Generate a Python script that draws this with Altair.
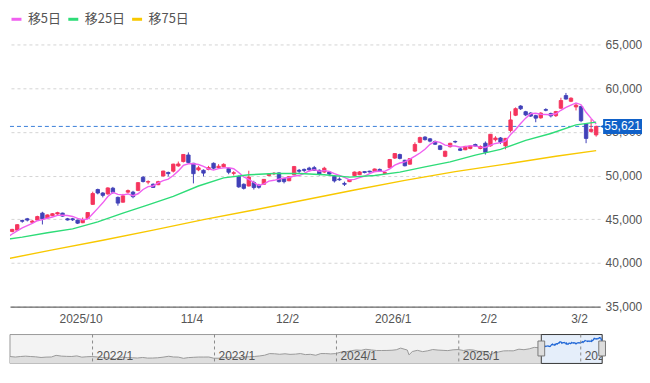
import altair as alt
import pandas as pd

# ---------------- data ----------------
dates = [
    "2025-09-08", "2025-09-09", "2025-09-10", "2025-09-11", "2025-09-12", "2025-09-16", "2025-09-17",
    "2025-09-18", "2025-09-19", "2025-09-22", "2025-09-24", "2025-09-25", "2025-09-26", "2025-09-29",
    "2025-09-30",
    "2025-10-01", "2025-10-02", "2025-10-03", "2025-10-06", "2025-10-07", "2025-10-08", "2025-10-09",
    "2025-10-10", "2025-10-14", "2025-10-15", "2025-10-16", "2025-10-17", "2025-10-20", "2025-10-21",
    "2025-10-22", "2025-10-23", "2025-10-24", "2025-10-27", "2025-10-28", "2025-10-29", "2025-10-30",
    "2025-10-31",
    "2025-11-04", "2025-11-05", "2025-11-06", "2025-11-07", "2025-11-10", "2025-11-11", "2025-11-12",
    "2025-11-13", "2025-11-14", "2025-11-17", "2025-11-18", "2025-11-19", "2025-11-20", "2025-11-21",
    "2025-11-25", "2025-11-26", "2025-11-27", "2025-11-28",
    "2025-12-01", "2025-12-02", "2025-12-03", "2025-12-04", "2025-12-05", "2025-12-08", "2025-12-09",
    "2025-12-10", "2025-12-11", "2025-12-12", "2025-12-15", "2025-12-16", "2025-12-17", "2025-12-18",
    "2025-12-19", "2025-12-22", "2025-12-23", "2025-12-24", "2025-12-25", "2025-12-26", "2025-12-29",
    "2025-12-30",
    "2026-01-05", "2026-01-06", "2026-01-07", "2026-01-08", "2026-01-09", "2026-01-13", "2026-01-14",
    "2026-01-15", "2026-01-16", "2026-01-19", "2026-01-20", "2026-01-21", "2026-01-22", "2026-01-23",
    "2026-01-26", "2026-01-27", "2026-01-28", "2026-01-29", "2026-01-30",
    "2026-02-02", "2026-02-03", "2026-02-04", "2026-02-05", "2026-02-06", "2026-02-09", "2026-02-10",
    "2026-02-12", "2026-02-13", "2026-02-16", "2026-02-17", "2026-02-18", "2026-02-19", "2026-02-20",
    "2026-02-24", "2026-02-25", "2026-02-26", "2026-02-27",
    "2026-03-02", "2026-03-03", "2026-03-04", "2026-03-05", "2026-03-06",
]

opens = [
    43400, 44050, 43600, 43750, 44850, 45050, 44650, 44900, 45700, 45150,
    45400, 45600, 45700, 45050, 45050, 44900, 44600, 45100, 46700, 48400,
    48000, 47900, 48550, 47500, 46950, 48100, 48100, 48300, 49800, 49250,
    49000, 48950, 49950, 50350, 50500, 51100, 51600, 52350, 51400, 50650,
    50600, 50700, 51400, 50900, 51000, 50800, 50250, 49900, 49000, 48800,
    49200, 48900, 49000, 50000, 50200, 50300, 49650, 49400, 50100, 50600,
    50700, 50850, 50900, 50600, 50400, 50400, 49900, 49600, 49100, 49300,
    50000, 50100, 50450, 50500, 50450, 50700, 50250, 50900, 52000, 52400,
    51750, 51300, 52800, 53800, 54400, 54200, 53900, 53400, 52200, 53300,
    53900, 53050, 52950, 53100, 53550, 53100, 53700, 53400, 54100, 54300,
    53400, 55150, 56900, 57950, 57300, 57150, 56850, 56600, 57550, 57100,
    56850, 57700, 59150, 58500, 57850, 57900, 55900, 55050, 54650,
]
highs = [
    43800, 44200, 43900, 44450, 44950, 45150, 44900, 45400, 45850, 45550,
    45700, 45850, 45750, 45150, 45150, 44950, 45200, 45800, 48150, 48500,
    48100, 48650, 48700, 47600, 47900, 48400, 48250, 49250, 49950, 49450,
    49100, 49400, 50550, 50450, 51350, 51600, 52450, 52650, 51450, 51100,
    50700, 51100, 51500, 51300, 51400, 50900, 50500, 50000, 49100, 50550,
    49400, 49050, 49600, 50250, 50400, 50350, 49700, 49900, 51100, 50750,
    50800, 51000, 51100, 50700, 51000, 50500, 50000, 49800, 49300, 49600,
    50450, 50500, 50500, 50550, 50800, 50800, 50450, 51900, 52550, 52500,
    51800, 52000, 53800, 54450, 54500, 54300, 54000, 53500, 52850, 53750,
    54000, 53150, 53400, 53450, 53650, 53450, 53900, 54750, 54500, 54400,
    54300, 57350, 57800, 58050, 57400, 57250, 56950, 57250, 57700, 57200,
    57400, 58900, 59450, 58950, 58300, 58000, 56000, 56450, 55700,
]
lows = [
    43300, 43400, 43500, 43700, 44600, 44750, 44550, 44800, 44400, 45100,
    45350, 45500, 45300, 44850, 44800, 44450, 44550, 45050, 46650, 47850,
    47500, 47800, 47900, 46550, 46900, 47950, 47400, 48200, 49200, 49000,
    48600, 48900, 49900, 49900, 50350, 51000, 51500, 51350, 49100, 50500,
    49900, 50600, 50700, 50800, 50950, 50150, 50000, 48600, 48400, 48750,
    48400, 48500, 48950, 49900, 50050, 49200, 49100, 49350, 50000, 50300,
    50400, 50500, 50550, 50000, 50300, 50050, 49200, 49400, 48800, 49250,
    49950, 50050, 50250, 50350, 50400, 50450, 50200, 50850, 51900, 51850,
    51050, 51250, 52700, 53700, 54000, 53800, 53500, 52900, 52100, 53200,
    53700, 52800, 52900, 53000, 53300, 53000, 52400, 53300, 53900, 53600,
    53000, 54950, 56800, 57500, 56800, 56700, 56100, 56500, 57350, 56650,
    56700, 57650, 58700, 58400, 57450, 56100, 53700, 54900, 54450,
]
closes = [
    43643, 43459, 43837, 44372, 44768, 44902, 44790, 45303, 45045, 45493,
    45630, 45754, 45354, 44913, 44932, 44550, 44936, 45769, 47944, 48000,
    47734, 48580, 48088, 46847, 47672, 48277, 47582, 49185, 49316, 49307,
    48641, 49299, 50512, 50219, 51307, 51325, 52411, 51497, 50212, 50883,
    50276, 50912, 50842, 51063, 51281, 50376, 50323, 48702, 48537, 49823,
    48625, 48659, 49559, 50167, 50253, 49303, 49303, 49864, 51028, 50491,
    50581, 50655, 50602, 50148, 50837, 50168, 49383, 49512, 49001, 49507,
    50402, 50412, 50345, 50407, 50750, 50526, 50339, 51832, 52518, 51961,
    51117, 51939, 53549, 54341, 54110, 53936, 53583, 52991, 52774, 53688,
    53846, 52885, 53333, 53358, 53375, 53322, 52655, 54720, 54293, 53818,
    54253, 56363, 57650, 57639, 56941, 56806, 56566, 57143, 57467, 56825,
    57321, 58583, 58753, 58850, 58057, 56279, 54245, 55278, 55621,
]

# moving averages
ma5 = [
    42700, 42928, 43308, 43666, 44016, 44268, 44534, 44827, 44962, 45107,
    45252, 45445, 45455, 45429, 45317, 45101, 44937, 45020, 45626, 46240,
    46877, 47605, 48069, 47850, 47784, 47893, 47693, 47913, 48406, 48733,
    48806, 49150, 49415, 49596, 49996, 50532, 51155, 51352, 51350, 51266,
    51056, 50756, 50625, 50795, 50875, 50895, 50777, 50349, 49844, 49552,
    49202, 48869, 49041, 49367, 49453, 49588, 49717, 49778, 49950, 49998,
    50253, 50524, 50671, 50495, 50565, 50482, 50228, 50010, 49780, 49514,
    49561, 49767, 49933, 50215, 50463, 50488, 50473, 50771, 51193, 51435,
    51553, 51873, 52217, 52581, 53011, 53575, 53904, 53792, 53479, 53394,
    53376, 53237, 53305, 53422, 53359, 53255, 53209, 53486, 53673, 53762,
    53948, 54689, 55275, 55945, 56569, 57080, 57120, 57019, 56985, 56961,
    57064, 57468, 57790, 58066, 58313, 58104, 57237, 56542, 55896,
]
ma25_days = [0, 4, 9, 14, 19, 24, 29, 34, 39, 44, 49, 54, 59, 64, 69, 74, 79, 84, 89, 94, 99, 104, 109, 114, 118]
ma25_vals = [42630, 42950, 43450, 43900, 44700, 45693, 46636, 47614, 48804, 49731, 50084, 50228, 50229,
             50088, 49816, 49998, 50395, 50998, 51564, 52333, 52992, 54019, 54809, 55793, 56113]
ma75_days = [0, 10, 20, 30, 40, 50, 60, 70, 80, 90, 100, 110, 118]
ma75_vals = [40350, 41500, 42600, 43750, 44950, 46050, 47200, 48350, 49450, 50450, 51300, 52200, 52850]

series_names = ["移5日", "移25日", "移75日"]
series_colors = ["#f060f0", "#2edc78", "#f8c800"]

tick_days = [15, 37, 56, 77, 96, 114]
tick_labels = ["2025/10", "11/4", "12/2", "2026/1", "2/2", "3/2"]
y_ticks = [35000, 40000, 45000, 50000, 55000, 60000, 65000]
last_price = 55621

# long-range series for the navigator (approximate levels)
nav_dates = [
    "2021-04-29", "2021-05-15", "2021-05-31", "2021-06-15", "2021-06-30", "2021-07-15", "2021-07-31",
    "2021-08-15", "2021-08-31", "2021-09-14", "2021-09-30", "2021-10-15", "2021-10-31", "2021-11-15",
    "2021-11-30", "2021-12-15", "2021-12-30", "2022-01-15", "2022-01-31", "2022-02-15", "2022-03-08",
    "2022-03-31", "2022-04-15", "2022-04-30", "2022-05-15", "2022-05-31", "2022-06-15", "2022-06-30",
    "2022-07-15", "2022-07-31", "2022-08-17", "2022-08-31", "2022-09-15", "2022-09-30", "2022-10-15",
    "2022-10-31", "2022-11-15", "2022-11-30", "2022-12-15", "2022-12-30", "2023-01-15", "2023-01-31",
    "2023-02-15", "2023-02-28", "2023-03-15", "2023-03-31", "2023-04-15", "2023-04-30", "2023-05-15",
    "2023-05-31", "2023-06-15", "2023-06-30", "2023-07-15", "2023-07-31", "2023-08-15", "2023-08-31",
    "2023-09-15", "2023-09-30", "2023-10-15", "2023-10-31", "2023-11-15", "2023-11-30", "2023-12-15",
    "2023-12-29", "2024-01-15", "2024-01-31", "2024-02-15", "2024-02-29", "2024-03-15", "2024-03-29",
    "2024-04-15", "2024-04-30", "2024-05-15", "2024-05-31", "2024-06-15", "2024-06-28", "2024-07-11",
    "2024-07-31", "2024-08-05", "2024-08-15", "2024-08-30", "2024-09-15", "2024-09-30", "2024-10-15",
    "2024-10-31", "2024-11-15", "2024-11-29", "2024-12-15", "2024-12-30", "2025-01-15", "2025-01-31",
    "2025-02-14", "2025-02-28", "2025-03-14", "2025-03-31", "2025-04-07", "2025-04-15", "2025-04-30",
    "2025-05-15", "2025-05-30", "2025-06-13", "2025-06-30", "2025-07-15", "2025-07-31", "2025-08-15",
    "2025-08-29", "2025-09-05",
]
nav_vals = [
    28800, 28000, 28860, 29400, 28790, 28300, 27280, 27900, 28090, 30670, 29450, 29070, 28890, 29800,
    27820, 28460, 28790, 28120, 27000, 26860, 24790, 27820, 27090, 26850, 26430, 27280, 26330, 26390,
    26790, 27800, 29220, 28090, 27880, 25940, 27090, 27590, 27990, 27970, 28050, 26090, 26120, 27330,
    27500, 27450, 27230, 28040, 28490, 28860, 29630, 30890, 33480, 33190, 32390, 33170, 32240, 32620,
    33530, 31860, 32320, 30860, 33520, 33490, 32970, 33460, 35900, 36290, 38160, 39170, 38710, 40370,
    39230, 38410, 38390, 38490, 38810, 39580, 42220, 39100, 31460, 36730, 38650, 36580, 37920, 39910,
    39080, 38640, 38210, 39470, 39890, 38440, 39570, 39150, 37160, 37050, 35620, 31140, 34270, 36050,
    37760, 37970, 37830, 40490, 39680, 41070, 43380, 42720, 43020,
]
nav_year_dates = ["2022-01-01", "2023-01-01", "2024-01-01", "2025-01-01", "2026-01-01"]
nav_year_labels = ["2022/1", "2023/1", "2024/1", "2025/1", "2026/1"]
nav_window = ["2025-09-05", "2026-03-06"]

# ---------------- styling ----------------
RED = "#f5345d"
BLUE = "#4141b8"
NUM_FONT = "Liberation Sans"
CJK_FONT = "Noto Sans CJK JP"
W, H = 592, 263
NAV_W, NAV_H = 594, 29
HALF_BODY = 0.34  # half candle width, in trading days

# ---------------- tables ----------------
idx = list(range(len(dates)))
cdf = pd.DataFrame({"day": idx, "date": dates, "open": opens, "high": highs,
                    "low": lows, "close": closes})
cvis = cdf[cdf["day"] >= 2]

ma_rows = []
for d, v in zip(idx, ma5):
    ma_rows.append({"day": d, "series": series_names[0], "value": v})
for d, v in zip(ma25_days, ma25_vals):
    ma_rows.append({"day": d, "series": series_names[1], "value": v})
for d, v in zip(ma75_days, ma75_vals):
    ma_rows.append({"day": d, "series": series_names[2], "value": v})
ma_df = pd.DataFrame(ma_rows)

price_df = pd.DataFrame({"price": [last_price], "label": [f"{last_price:,}"]})

label_expr = "''"
for d, lab in reversed(list(zip(tick_days, tick_labels))):
    label_expr = f"datum.value == {d} ? '{lab}' : ({label_expr})"

xscale = alt.Scale(domain=[1.564, 118.79], nice=False, zero=False, padding=0)
yscale = alt.Scale(domain=[35000, 65000], nice=False, zero=False, padding=0)
x_axis = alt.Axis(values=tick_days, labelExpr=label_expr, title=None, grid=False, ticks=False,
                  domain=True, domainColor="#444", domainWidth=1, labelPadding=7,
                  labelFontSize=12, labelColor="#555", labelFont=NUM_FONT, labelOffset=3,
                  labelFlush=False, labelOverlap=False, zindex=1)
y_axis = alt.Axis(orient="right", values=y_ticks, format=",.0f", title=None, grid=True,
                  gridDash=[3, 3], gridColor="#d4d4d4", ticks=False, domain=False,
                  labelPadding=5, labelFontSize=12, labelColor="#555", labelFont=NUM_FONT)

X = alt.X("day:Q", scale=xscale, axis=x_axis)


def Y(field):
    return alt.Y(field, scale=yscale, axis=y_axis)


up = "datum.close >= datum.open"
down = "datum.close < datum.open"

price_rule = alt.Chart(price_df).mark_rule(color="#3b7fd9", strokeDash=[4, 3], strokeWidth=1).encode(
    y=Y("price:Q"))

candle_base = alt.Chart(cvis).transform_calculate(
    x0=f"datum.day - {HALF_BODY}", x1=f"datum.day + {HALF_BODY}")

wick_up = candle_base.transform_filter(up).mark_rule(color=RED, strokeWidth=1).encode(
    x=X, y=Y("low:Q"), y2="high:Q")
wick_dn = candle_base.transform_filter(down).mark_rule(color=BLUE, strokeWidth=1).encode(
    x=X, y=Y("low:Q"), y2="high:Q")
body_up = candle_base.transform_filter(up).mark_rect(
    fill=RED, stroke=RED, strokeWidth=0.9).encode(
    x=alt.X("x0:Q", scale=xscale, axis=x_axis), x2="x1:Q", y=Y("open:Q"), y2="close:Q")
body_dn = candle_base.transform_filter(down).mark_rect(
    fill=BLUE, stroke=BLUE, strokeWidth=0.9).encode(
    x=alt.X("x0:Q", scale=xscale, axis=x_axis), x2="x1:Q", y=Y("open:Q"), y2="close:Q")

ma_lines = alt.Chart(ma_df).mark_line(strokeWidth=1.4, clip=True).encode(
    x=X, y=Y("value:Q"),
    color=alt.Color("series:N", sort=series_names,
                    scale=alt.Scale(domain=series_names, range=series_colors),
                    legend=alt.Legend(orient="none", legendX=0, legendY=-32, direction="horizontal",
                                      title=None, symbolType="stroke", symbolStrokeWidth=3,
                                      symbolSize=100, labelFontSize=13, labelColor="#555",
                                      labelFont=CJK_FONT, columnPadding=0, labelOffset=5,
                                      padding=0)),
    order=alt.Order("day:Q"))

price_box = alt.Chart(price_df).transform_calculate(
    top="datum.price + 860", bot="datum.price - 860").mark_rect(fill="#1061c8").encode(
    x=alt.value(595), x2=alt.value(634), y=Y("top:Q"), y2="bot:Q")
price_tip = alt.Chart(price_df).mark_point(
    shape="M1,-1L-1,0L1,1Z", filled=True, fill="#1061c8", opacity=1, size=64, strokeWidth=0).encode(
    x=alt.value(596), y=Y("price:Q"))
price_text = alt.Chart(price_df).mark_text(
    color="white", fontSize=12, font=NUM_FONT, align="center", baseline="middle").encode(
    x=alt.value(614.5), y=Y("price:Q"), text="label:N")

main = alt.layer(price_rule, wick_up, wick_dn, body_up, body_dn, ma_lines,
                 price_box, price_tip, price_text).properties(width=W, height=H)

# ---------------- navigator ----------------
nav_df = pd.DataFrame({"date": nav_dates, "value": nav_vals})
sel_df = pd.DataFrame({"start": [nav_window[0]], "end": [nav_window[1]]})
year_df = pd.DataFrame({"date": nav_year_dates, "label": nav_year_labels})
handle_df = pd.DataFrame({"date": nav_window})
one = pd.DataFrame({"k": [0]})

nxs = alt.Scale(domain=[alt.DateTime(year=2021, month=4, date=29),
                        alt.DateTime(year=2026, month=3, date=6)], padding=0)
nys = alt.Scale(domain=[17800, 63800], nice=False, zero=False, padding=0)

nav_bg = alt.Chart(one).mark_rect(fill="#f3f3f3", stroke="#9a9a9a", strokeWidth=1).encode(
    x=alt.value(0), x2=alt.value(NAV_W), y=alt.value(0), y2=alt.value(NAV_H))
nav_area = alt.Chart(nav_df).mark_area(color="#dedede", clip=True).encode(
    x=alt.X("date:T", scale=nxs, axis=None), y=alt.Y("value:Q", scale=nys, axis=None),
    y2=alt.value(NAV_H))
nav_line = alt.Chart(nav_df).mark_line(color="#9a9a9a", strokeWidth=1).encode(
    x=alt.X("date:T", scale=nxs, axis=None), y=alt.Y("value:Q", scale=nys, axis=None))
nav_sel = alt.Chart(sel_df).mark_rect(fill="#e5eefa", stroke="#3a3a3a", strokeWidth=1).encode(
    x=alt.X("start:T", scale=nxs, axis=None), x2="end:T", y=alt.value(0), y2=alt.value(NAV_H))
nav_blue = alt.Chart(cdf).mark_line(color="#1f66d6", strokeWidth=1.2).encode(
    x=alt.X("date:T", scale=nxs, axis=None), y=alt.Y("close:Q", scale=nys, axis=None))
nav_rules = alt.Chart(year_df).mark_rule(color="#8a8a8a", strokeDash=[3, 3], strokeWidth=1).encode(
    x=alt.X("date:T", scale=nxs, axis=None), y=alt.value(0), y2=alt.value(NAV_H))
nav_text = alt.Chart(year_df).mark_text(align="left", baseline="middle", dx=4, fontSize=12,
                                        color="#555", font=NUM_FONT, clip=True).encode(
    x=alt.X("date:T", scale=nxs, axis=None), y=alt.value(22), text="label:N")
nav_handles = alt.Chart(handle_df).mark_point(
    shape="M-0.45,-1H0.45V1H-0.45Z", filled=True, fill="#dddddd", stroke="#7a7a7a",
    strokeWidth=1, size=225, opacity=1).encode(
    x=alt.X("date:T", scale=nxs, axis=None), y=alt.value(14))

nav = alt.layer(nav_bg, nav_area, nav_line, nav_sel, nav_blue, nav_rules, nav_text,
                nav_handles).properties(width=NAV_W, height=NAV_H)

chart = alt.vconcat(main, nav, spacing=9).resolve_scale(color="independent").resolve_legend(
    color="independent").properties(
    padding={"left": 0, "top": 4, "right": 0, "bottom": 0}).configure_view(
    stroke=None).configure_scale(continuousPadding=0)

chart.save("out.html", embed_options={"renderer": "svg", "actions": False})
